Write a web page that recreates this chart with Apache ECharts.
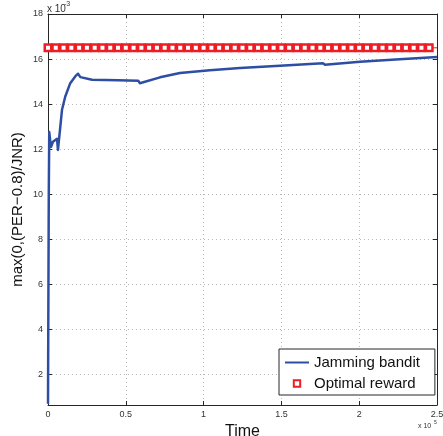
<!DOCTYPE html>
<html><head><meta charset="utf-8">
<script src="https://cdn.jsdelivr.net/npm/echarts@6/dist/echarts.min.js"></script>
<style>html,body{margin:0;padding:0;background:#fff}#c{width:443px;height:436px}</style>
</head><body><div id="c"></div>
<script>
// x in units of 1e5 (Time), y in units of 1e-3
const jamX = [0, 0.005, 0.008, 0.019, 0.032, 0.058, 0.064, 0.09, 0.111, 0.143, 0.175, 0.193, 0.208, 0.283, 0.45, 0.58, 0.59, 0.72, 0.848, 1.04, 1.234, 1.49, 1.767, 1.78, 2.005, 2.26, 2.5];
const jamY = [0.7, 10.0, 12.76, 12.1, 12.33, 12.46, 11.97, 13.75, 14.34, 14.93, 15.23, 15.35, 15.2, 15.08, 15.06, 15.04, 14.93, 15.19, 15.38, 15.5, 15.6, 15.7, 15.82, 15.75, 15.88, 15.99, 16.09];
const optX = [0, 0.05, 0.1, 0.15, 0.2, 0.25, 0.3, 0.35, 0.4, 0.45, 0.5, 0.55, 0.6, 0.65, 0.7, 0.75, 0.8, 0.85, 0.9, 0.95, 1.0, 1.05, 1.1, 1.15, 1.2, 1.25, 1.3, 1.35, 1.4, 1.45, 1.5, 1.55, 1.6, 1.65, 1.7, 1.75, 1.8, 1.85, 1.9, 1.95, 2.0, 2.05, 2.1, 2.15, 2.2, 2.25, 2.3, 2.35, 2.4, 2.45, 2.5];
const optY = [16.5, 16.5, 16.5, 16.5, 16.5, 16.5, 16.5, 16.5, 16.5, 16.5, 16.5, 16.5, 16.5, 16.5, 16.5, 16.5, 16.5, 16.5, 16.5, 16.5, 16.5, 16.5, 16.5, 16.5, 16.5, 16.5, 16.5, 16.5, 16.5, 16.5, 16.5, 16.5, 16.5, 16.5, 16.5, 16.5, 16.5, 16.5, 16.5, 16.5, 16.5, 16.5, 16.5, 16.5, 16.5, 16.5, 16.5, 16.5, 16.5, 16.5, 16.5];
const yTicks = [2, 4, 6, 8, 10, 12, 14, 16, 18];
const seriesNames = ['Jamming bandit', 'Optimal reward'];

const FONT = 'Liberation Sans, Arial, sans-serif';
const axisCol = '#262626';
const RED = '#ee1d24';
const BLUE = '#2d4ea3';
const gridLine = {show: true, lineStyle: {color: '#b8b8b8', type: [1, 3], width: 1}};
const chart = echarts.init(document.getElementById('c'), null, {renderer: 'canvas'});
const yLabelFmt = v => String(Math.round(v));
chart.setOption({
  animation: false,
  backgroundColor: '#fff',
  grid: {left: 48, right: 6, top: 14, bottom: 31, containLabel: false, outerBoundsMode: 'none'},
  xAxis: [{
    type: 'value', min: 0, max: 2.5, interval: 0.5,
    axisLine: {show: true, onZero: false, lineStyle: {color: axisCol, width: 1}},
    axisTick: {show: true, inside: true, length: 4, lineStyle: {color: axisCol}},
    axisLabel: {color: '#333', fontSize: 9, fontFamily: FONT, margin: 5, formatter: v => String(v)},
    splitLine: gridLine,
    name: 'Time', nameLocation: 'middle', nameGap: 19, nameMoveOverlap: false,
    nameTextStyle: {fontSize: 16, fontFamily: FONT, color: '#111'}
  }, {
    type: 'value', min: 0, max: 2.5, interval: 0.5, position: 'top',
    axisLine: {show: true, onZero: false, lineStyle: {color: axisCol, width: 1}},
    axisTick: {show: true, inside: true, length: 4, lineStyle: {color: axisCol}},
    axisLabel: {show: false}, splitLine: {show: false}
  }],
  yAxis: [{
    type: 'value', min: 0.65, max: 18,
    axisLine: {show: true, onZero: false, lineStyle: {color: axisCol, width: 1}},
    axisTick: {show: true, inside: true, length: 4, customValues: yTicks, lineStyle: {color: axisCol}},
    axisLabel: {color: '#333', fontSize: 9, fontFamily: FONT, margin: 5, customValues: yTicks, formatter: yLabelFmt},
    splitLine: Object.assign({customValues: yTicks}, gridLine),
    name: 'max(0,(PER\u22120.8)/JNR)', nameLocation: 'middle', nameGap: 23, nameMoveOverlap: false,
    nameTextStyle: {fontSize: 15, fontFamily: FONT, color: '#111'}
  }, {
    type: 'value', min: 0.65, max: 18, position: 'right',
    axisLine: {show: true, onZero: false, lineStyle: {color: axisCol, width: 1}},
    axisTick: {show: true, inside: true, length: 4, customValues: yTicks, lineStyle: {color: axisCol}},
    axisLabel: {show: false}, splitLine: {show: false}
  }],
  legend: {
    orient: 'vertical', left: 279, top: 349,
    padding: [6, 15, 4, 5], itemGap: 6, itemWidth: 24, itemHeight: 8,
    backgroundColor: '#fff', borderColor: axisCol, borderWidth: 1, borderRadius: 0,
    textStyle: {fontSize: 15, fontFamily: FONT, color: '#111'},
    data: [
      {name: seriesNames[0], itemStyle: {color: 'rgba(0,0,0,0)', borderColor: 'rgba(0,0,0,0)', borderWidth: 0, opacity: 0}},
      {name: seriesNames[1], lineStyle: {opacity: 0, width: 0}}
    ]
  },
  series: [{
    name: seriesNames[0], type: 'line', xAxisIndex: 0, yAxisIndex: 0,
    data: jamX.map((x, i) => [x, jamY[i]]),
    showSymbol: false, symbol: 'none',
    lineStyle: {color: BLUE, width: 2.5, join: 'round'},
    itemStyle: {color: BLUE}, z: 3
  }, {
    name: seriesNames[1], type: 'line', xAxisIndex: 0, yAxisIndex: 0,
    data: optX.map((x, i) => i === optX.length - 1 ? {value: [x, optY[i]], symbol: 'none'} : [x, optY[i]]),
    symbol: 'rect', symbolSize: 6.5, showAllSymbol: true,
    lineStyle: {color: RED, width: 1},
    itemStyle: {color: '#fff', borderColor: RED, borderWidth: 2.5}, z: 2
  }],
  graphic: [
    {type: 'text', left: 47, top: 4, style: {text: 'x 10', fontSize: 10, fontFamily: FONT, fill: '#333'}},
    {type: 'text', left: 64, top: 1, style: {text: '-3', fontSize: 7, fontFamily: FONT, fill: '#333'}},
    {type: 'text', left: 418, top: 423, style: {text: 'x 10', fontSize: 7, fontFamily: FONT, fill: '#333'}},
    {type: 'text', left: 434, top: 420, style: {text: '5', fontSize: 5, fontFamily: FONT, fill: '#333'}}
  ]
});
</script></body></html>
